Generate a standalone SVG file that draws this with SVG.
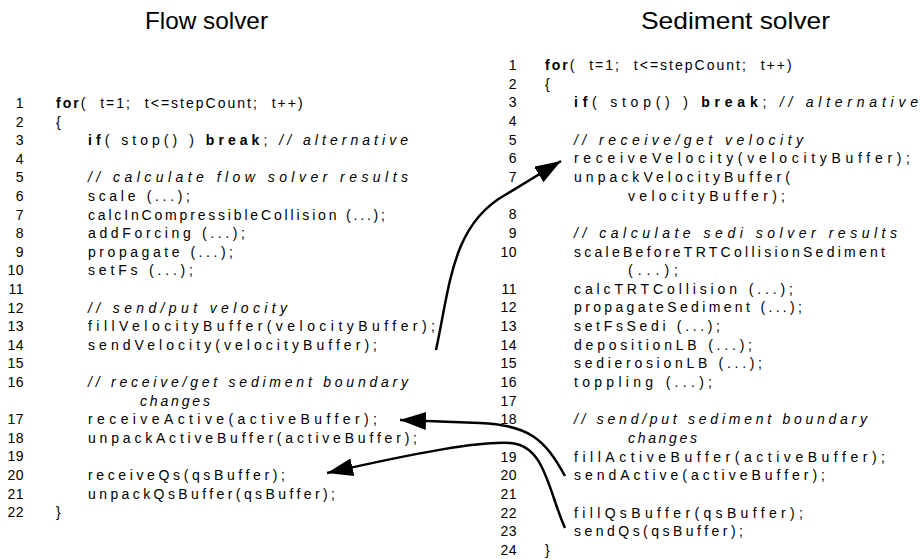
<svg xmlns="http://www.w3.org/2000/svg" width="924" height="559" viewBox="0 0 924 559">
  <style>
    text { font-family: "Liberation Sans", "DejaVu Sans", sans-serif; fill: #000; }
    .title { font-size: 24px; }
    .ln { font-size: 14px; text-anchor: end; letter-spacing: 0.5px; }
    .code { font-size: 14px; white-space: pre; }
    .loop { letter-spacing: 2px; word-spacing: 7px; }
    .kw { font-weight: bold; }
    .cm { font-style: italic; }
    .msg { fill: none; stroke: #000; stroke-width: 2.5; }
  </style>
  <defs>
    <marker id="head" markerUnits="userSpaceOnUse" markerWidth="30" markerHeight="20" refX="26" refY="9" orient="auto">
      <path d="M0,0 L26,9 L0,18 Z" fill="#000"/>
    </marker>
  </defs>

  <rect width="924" height="559" fill="#fff"/>

  <!-- flow solver listing -->
  <g id="flow-solver">
    <text class="title" x="145" y="29" textLength="123" lengthAdjust="spacingAndGlyphs">Flow solver</text>
    <g class="ln">
      <text x="24" y="108">1</text>
      <text x="24" y="126.6">2</text>
      <text x="24" y="145.2">3</text>
      <text x="24" y="163.8">4</text>
      <text x="24" y="182.4">5</text>
      <text x="24" y="201">6</text>
      <text x="24" y="219.6">7</text>
      <text x="24" y="238.2">8</text>
      <text x="24" y="256.8">9</text>
      <text x="24" y="275.4">10</text>
      <text x="24" y="294">11</text>
      <text x="24" y="312.6">12</text>
      <text x="24" y="331.2">13</text>
      <text x="24" y="349.8">14</text>
      <text x="24" y="368.4">15</text>
      <text x="24" y="387">16</text>
      <text x="24" y="424.2">17</text>
      <text x="24" y="442.8">18</text>
      <text x="24" y="461.4">19</text>
      <text x="24" y="480">20</text>
      <text x="24" y="498.6">21</text>
      <text x="24" y="517.2">22</text>
    </g>
    <g class="code">
      <text x="56" y="108" class="loop"><tspan class="kw">for</tspan>( t=1; t&lt;=stepCount; t++)</text>
      <text x="56" y="126.6">{</text>
      <text x="88" y="145.2" textLength="320" lengthAdjust="spacing"><tspan class="kw">if</tspan>( stop() ) <tspan class="kw">break</tspan>; <tspan class="cm">// alternative</tspan></text>
      <text x="88" y="182.4" class="cm" textLength="320" lengthAdjust="spacing">// calculate flow solver results</text>
      <text x="88" y="201" textLength="102" lengthAdjust="spacing">scale (...);</text>
      <text x="88" y="219.6" textLength="297" lengthAdjust="spacing">calcInCompressibleCollision (...);</text>
      <text x="88" y="238.2" textLength="157" lengthAdjust="spacing">addForcing (...);</text>
      <text x="88" y="256.8" textLength="145" lengthAdjust="spacing">propagate (...);</text>
      <text x="88" y="275.4" textLength="105" lengthAdjust="spacing">setFs (...);</text>
      <text x="88" y="312.6" class="cm" textLength="199" lengthAdjust="spacing">// send/put velocity</text>
      <text x="88" y="331.2" textLength="347" lengthAdjust="spacing">fillVelocityBuffer(velocityBuffer);</text>
      <text x="88" y="349.8" textLength="289" lengthAdjust="spacing">sendVelocity(velocityBuffer);</text>
      <text x="88" y="387" class="cm" textLength="320" lengthAdjust="spacing">// receive/get sediment boundary</text>
      <text x="140" y="405.6" class="cm" textLength="70" lengthAdjust="spacing">changes</text>
      <text x="88" y="424.2" textLength="289" lengthAdjust="spacing">receiveActive(activeBuffer);</text>
      <text x="88" y="442.8" textLength="329" lengthAdjust="spacing">unpackActiveBuffer(activeBuffer);</text>
      <text x="88" y="480" textLength="197" lengthAdjust="spacing">receiveQs(qsBuffer);</text>
      <text x="88" y="498.6" textLength="247" lengthAdjust="spacing">unpackQsBuffer(qsBuffer);</text>
      <text x="56" y="517.2">}</text>
    </g>
  </g>

  <!-- sediment solver listing -->
  <g id="sediment-solver">
    <text class="title" x="641" y="29" textLength="189" lengthAdjust="spacingAndGlyphs">Sediment solver</text>
    <g class="ln">
      <text x="517" y="70">1</text>
      <text x="517" y="88.65">2</text>
      <text x="517" y="107.3">3</text>
      <text x="517" y="125.95">4</text>
      <text x="517" y="144.6">5</text>
      <text x="517" y="163.25">6</text>
      <text x="517" y="181.9">7</text>
      <text x="517" y="219.2">8</text>
      <text x="517" y="237.85">9</text>
      <text x="517" y="256.5">10</text>
      <text x="517" y="293.8">11</text>
      <text x="517" y="312.45">12</text>
      <text x="517" y="331.1">13</text>
      <text x="517" y="349.75">14</text>
      <text x="517" y="368.4">15</text>
      <text x="517" y="387.05">16</text>
      <text x="517" y="405.7">17</text>
      <text x="517" y="424.35">18</text>
      <text x="517" y="461.65">19</text>
      <text x="517" y="480.3">20</text>
      <text x="517" y="498.95">21</text>
      <text x="517" y="517.6">22</text>
      <text x="517" y="536.25">23</text>
      <text x="517" y="554.9">24</text>
    </g>
    <g class="code">
      <text x="545" y="70" class="loop"><tspan class="kw">for</tspan>( t=1; t&lt;=stepCount; t++)</text>
      <text x="545" y="88.65">{</text>
      <text x="574" y="107.3" textLength="344" lengthAdjust="spacing"><tspan class="kw">if</tspan>( stop() ) <tspan class="kw">break</tspan>; <tspan class="cm">// alternative</tspan></text>
      <text x="574" y="144.6" class="cm" textLength="229" lengthAdjust="spacing">// receive/get velocity</text>
      <text x="574" y="163.25" textLength="336" lengthAdjust="spacing">receiveVelocity(velocityBuffer);</text>
      <text x="574" y="181.9" textLength="216" lengthAdjust="spacing">unpackVelocityBuffer(</text>
      <text x="628" y="200.55" textLength="157" lengthAdjust="spacing">velocityBuffer);</text>
      <text x="574" y="237.85" class="cm" textLength="323" lengthAdjust="spacing">// calculate sedi solver results</text>
      <text x="574" y="256.5" textLength="311" lengthAdjust="spacing">scaleBeforeTRTCollisionSediment</text>
      <text x="628" y="275.15" textLength="50" lengthAdjust="spacing">(...);</text>
      <text x="574" y="293.8" textLength="219" lengthAdjust="spacing">calcTRTCollision (...);</text>
      <text x="574" y="312.45" textLength="228" lengthAdjust="spacing">propagateSediment (...);</text>
      <text x="574" y="331.1" textLength="146" lengthAdjust="spacing">setFsSedi (...);</text>
      <text x="574" y="349.75" textLength="178" lengthAdjust="spacing">depositionLB (...);</text>
      <text x="574" y="368.4" textLength="188" lengthAdjust="spacing">sedierosionLB (...);</text>
      <text x="574" y="387.05" textLength="138" lengthAdjust="spacing">toppling (...);</text>
      <text x="574" y="424.35" class="cm" textLength="293" lengthAdjust="spacing">// send/put sediment boundary</text>
      <text x="628" y="443" class="cm" textLength="69" lengthAdjust="spacing">changes</text>
      <text x="574" y="461.65" textLength="311" lengthAdjust="spacing">fillActiveBuffer(activeBuffer);</text>
      <text x="574" y="480.3" textLength="251" lengthAdjust="spacing">sendActive(activeBuffer);</text>
      <text x="574" y="517.6" textLength="229" lengthAdjust="spacing">fillQsBuffer(qsBuffer);</text>
      <text x="574" y="536.25" textLength="169" lengthAdjust="spacing">sendQs(qsBuffer);</text>
      <text x="545" y="554.9">}</text>
    </g>
  </g>

  <!-- message passing between the solvers -->
  <g id="connectors">
    <path class="msg" d="M436,350 C450,285 452,225 505,195 L561,161" marker-end="url(#head)"/>
    <path class="msg" d="M565,476 C545,440 530,425 480,423 L400,420" marker-end="url(#head)"/>
    <path class="msg" d="M565,528 C548,490 545,445 510,443 C480,441 420,452 327,473" marker-end="url(#head)"/>
  </g>
</svg>
